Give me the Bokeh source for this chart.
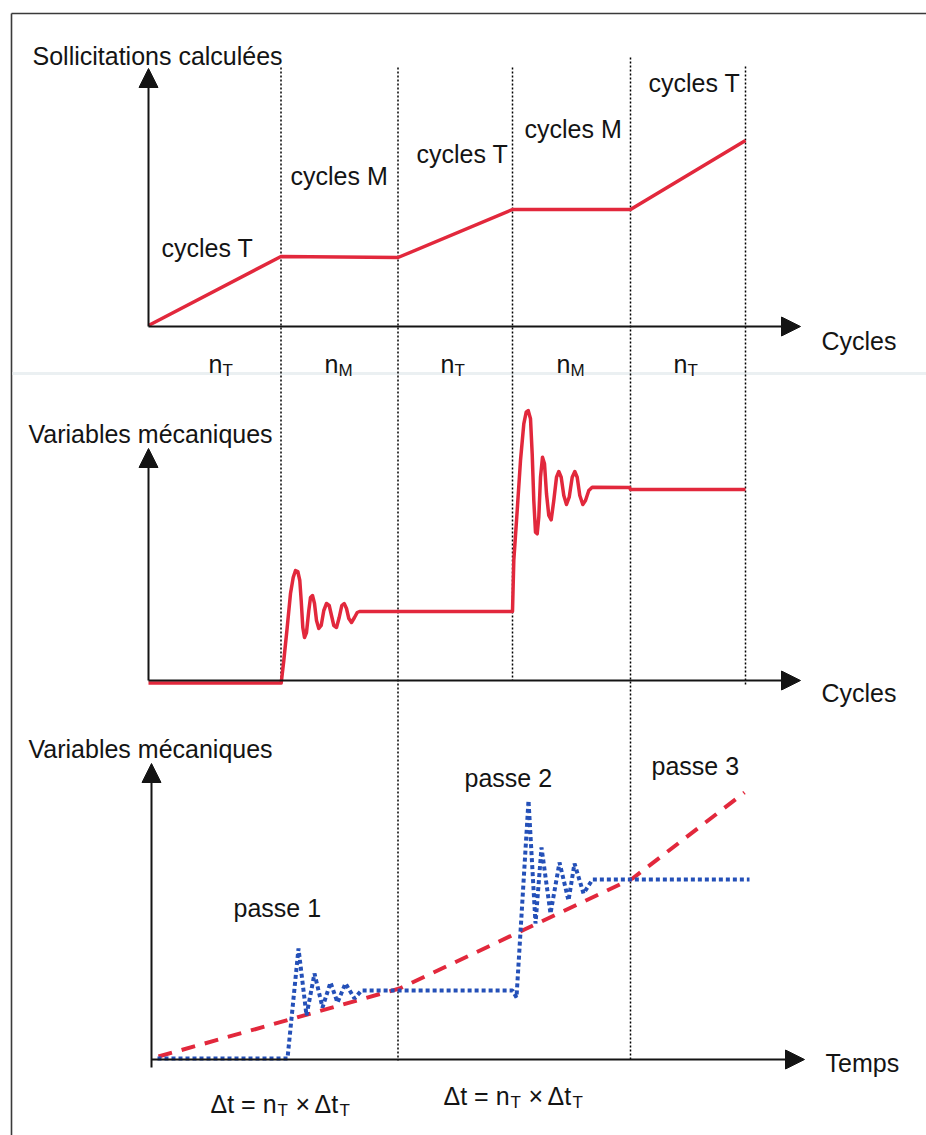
from bokeh.plotting import figure
from bokeh.models import Range1d, Arrow, NormalHead
from bokeh.core.properties import value
from bokeh.embed import file_html
from bokeh.resources import INLINE

# ---------------- data (x: cycles/time from the axis origin, y: value above each panel's axis) ----
BOUNDARIES = [132.5, 249.5, 364, 482, 597]          # ends of the cycle blocks
BLOCK_LABELS = ["cycles T", "cycles M", "cycles T", "cycles M", "cycles T"]
BLOCK_SUBS = ["T", "M", "T", "M", "T"]

# panel 1 : sollicitations calculées
LOAD_X = [0, 132.5, 249.5, 364, 482, 597]
LOAD_Y = [1, 70, 69, 117, 117, 186]

# panel 2 : variables mécaniques (cycles)
MECH_X = [0, 132.7, 135.3, 138.7, 142, 144.7, 147, 149.3, 151.3, 152.7, 154.3, 156, 158,
          160.3, 162, 164, 166, 168, 170.3, 172.7, 175.3, 178, 180.7, 183, 185.3, 188,
          190.7, 193.3, 195.7, 198, 200.3, 203, 206, 208.7, 211,
          364, 365.3, 368.7, 372, 375.3, 377.7, 379.7, 382, 383.7, 385.3, 387, 388.7,
          390.3, 392, 394, 396, 398, 400.3, 402.7, 405.3, 408, 410.3, 412.7, 415.3, 418,
          420.7, 423.7, 426.3, 428.7, 431.3, 434.3, 437, 440.3, 443.7, 481, 482, 597]
MECH_Y = [-2.5, -2.5, 20, 53, 87, 103, 110, 109, 100, 80, 53, 43, 48,
          70, 83, 85, 77, 60, 52, 55, 70, 77, 75, 65, 55, 53,
          63, 75, 77, 72, 62, 58, 63, 68, 69,
          69, 120, 170, 220, 256.7, 268.3, 270, 261.7, 226.7, 180, 148.3, 146.7,
          163.3, 203.3, 223.3, 216.7, 186.7, 165, 160.7, 180, 203.3, 209, 203.3, 185, 176,
          183.3, 203.3, 209, 203.3, 185, 176, 180, 190, 193.3, 193, 191, 191]

# panel 3 : variables mécaniques (temps)
PASS_X = [10, 251, 484, 596]
PASS_Y = [3, 71, 181, 267]
BLUE_X = [9, 139, 150, 158, 166, 174, 182, 189, 197, 206, 213, 364, 368, 380, 387, 393,
          402, 411, 420, 426, 435, 444, 601]
BLUE_Y = [1, 1, 111, 44, 86, 52, 77, 57, 76, 61, 69, 69, 62, 259, 136, 212,
          146, 197, 159, 196, 166, 180, 180]

# ---------------- layout constants ----------------
W, H = 926, 1135
PX0, PY0 = 0, 0                    # page offset of the canvas
ORIGIN_X = 148                     # page x of the axes origin
PANEL_Y = {"p1": 326, "p2": 680, "p3": 1059}
RED = "#e2283c"
BLUE = "#2450b8"
INK = "#141414"
FONT = value("Liberation Sans")

p = figure(width=W, height=H, output_backend="svg", toolbar_location=None,
           x_range=Range1d(PX0 - ORIGIN_X, PX0 + W - ORIGIN_X),
           y_range=Range1d(PY0 + H, PY0),
           x_axis_location=None, y_axis_location=None, min_border=0)
p.grid.visible = False
p.outline_line_color = None
p.background_fill_color = "white"
p.border_fill_color = "white"
p.extra_x_ranges = {"page": Range1d(PX0, PX0 + W)}
p.extra_y_ranges = {k: Range1d(v - (PY0 + H), v - PY0) for k, v in PANEL_Y.items()}

# frame of the figure and faint scan band
p.segment(x0=[11, 11], y0=[13, 13], x1=[PX0 + W, 11], y1=[13, PY0 + H],
          x_range_name="page", line_color="#3a3a3a", line_width=1.6)
p.segment(x0=[12], y0=[373], x1=[PX0 + W], y1=[373], x_range_name="page",
          line_color="#ebf0f2", line_width=3)

# dotted block separators
tops = [67, 67, 67, 57, 66]
bottoms = [680, 1060, 680, 1060, 685]
p.segment(x0=BOUNDARIES, y0=tops, x1=BOUNDARIES, y1=bottoms,
          line_color="#000000", line_width=1.5, line_dash="2 2")

# curves
p.line(LOAD_X, LOAD_Y, y_range_name="p1", line_color=RED, line_width=3.5, line_join="round")
p.line(MECH_X, MECH_Y, y_range_name="p2", line_color=RED, line_width=3.5, line_join="round")
p.line(PASS_X, PASS_Y, y_range_name="p3", line_color=RED, line_width=4, line_dash="14 10")
p.line(BLUE_X, BLUE_Y, y_range_name="p3", line_color=BLUE, line_width=4, line_dash="4 3")

# axes (arrows)
def axis_arrow(x0, y0, x1, y1, rng):
    p.add_layout(Arrow(x_start=x0, y_start=y0, x_end=x1, y_end=y1, y_range_name=rng,
                       line_color=INK, line_width=2,
                       end=NormalHead(size=19, fill_color=INK, line_color=INK, line_width=1)))

axis_arrow(0, 0, 0, PANEL_Y["p1"] - 68, "p1")
axis_arrow(0, 0, 652, 0, "p1")
axis_arrow(0, 0, 0, PANEL_Y["p2"] - 448, "p2")
axis_arrow(0, 0, 652, 0, "p2")
axis_arrow(3, -8, 3, PANEL_Y["p3"] - 763, "p3")
axis_arrow(3, 0, 656, 0, "p3")

# texts
def txt(x, y, s, size=25, align="left"):
    p.text(x=[x], y=[y], text=[s], x_range_name="page", text_font=FONT,
           text_font_size=f"{size}px", text_color=INK, text_align=align,
           text_baseline="alphabetic")

txt(32, 55, "Sollicitations calculées")
txt(821, 340, "Cycles")
for lx, ly, s in zip([161, 290, 416, 524, 648], [247, 175, 153, 128, 82], BLOCK_LABELS):
    txt(lx, ly, s)
for nx, sub in zip([208, 324, 440, 556, 673], BLOCK_SUBS):
    txt(nx, 363, "n")
    txt(nx + 14, 370, sub, size=17)

txt(28, 433, "Variables mécaniques")
txt(821, 692, "Cycles")

txt(28, 748, "Variables mécaniques")
txt(233, 907, "passe 1")
txt(464, 777, "passe 2")
txt(651, 765, "passe 3")
txt(825, 1062, "Temps")
for x0, by in [(210, 1103), (443, 1095)]:
    txt(x0, by, "Δt = n")
    txt(x0 + 67, by + 7, "T", size=17)
    txt(x0 + 85, by, "×")
    txt(x0 + 104, by, "Δt")
    txt(x0 + 129, by + 7, "T", size=17)

open("out.html", "w").write(file_html(p, INLINE))
